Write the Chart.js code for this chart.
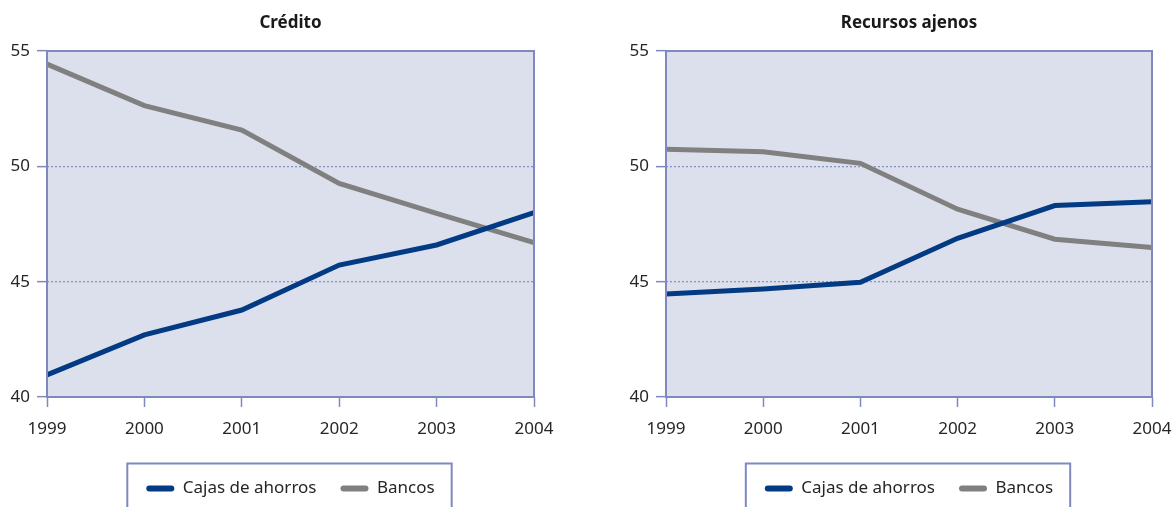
<!DOCTYPE html>
<html><head><meta charset="utf-8">
<script src="https://cdn.jsdelivr.net/npm/chart.js@4/dist/chart.umd.min.js"></script>
<style>
html,body{margin:0;padding:0;background:#fff;width:1173px;height:507px;overflow:hidden}
.wrap{position:absolute;top:0;height:507px}
</style></head><body>
<div class="wrap" style="left:0;width:581px"><canvas id="c1" width="581" height="507"></canvas></div>
<div class="wrap" style="left:600px;width:573px"><canvas id="c2" width="573" height="507"></canvas></div>
<script>
const years = ['1999','2000','2001','2002','2003','2004'];
const seriesNames = ['Cajas de ahorros','Bancos'];
const creditoCajas = [40.96, 42.69, 43.77, 45.72, 46.59, 47.99];
const creditoBancos = [54.43, 52.63, 51.57, 49.26, 47.96, 46.69];
const recursosCajas = [44.47, 44.68, 44.97, 46.88, 48.30, 48.46];
const recursosBancos = [50.74, 50.63, 50.13, 48.14, 46.84, 46.48];
const yMin = 40, yMax = 55, yStep = 5;
const titles = ['Crédito','Recursos ajenos'];

const AXIS = '#7f89bf';
const GRID = '#8a92c4';
const BG = '#dce0ec';
const CAJAS = '#023b83';
const BANCOS = '#808080';

Chart.defaults.font.family = "'Noto Sans', sans-serif";
Chart.defaults.color = '#262626';

const framePlugin = {
  id: 'frame',
  beforeDraw(chart) {
    const a = chart.chartArea, ctx = chart.ctx;
    ctx.save();
    ctx.fillStyle = BG;
    ctx.fillRect(a.left, a.top, a.right - a.left, a.bottom - a.top);
    ctx.restore();
  },
  afterDraw(chart) {
    const a = chart.chartArea, ctx = chart.ctx;
    ctx.save();
    ctx.strokeStyle = AXIS;
    ctx.lineWidth = 2;
    ctx.strokeRect(a.left, a.top, a.right - a.left, a.bottom - a.top);
    const lg = chart.legend;
    if (lg && lg.legendHitBoxes && lg.legendHitBoxes.length) {
      const hb = lg.legendHitBoxes;
      let l = Infinity, r = -Infinity, cy = 0;
      hb.forEach(h => { l = Math.min(l, h.left); r = Math.max(r, h.left + h.width); cy = h.top + h.height / 2; });
      ctx.strokeRect(l - 19, cy - 25, (r + 17) - (l - 19), 80);
    }
    ctx.restore();
  }
};

function makeChart(id, title, cajas, bancos, yWidth, padRight) {
  return new Chart(document.getElementById(id), {
    type: 'line',
    data: {
      labels: years,
      datasets: [
        { label: seriesNames[0], data: cajas, borderColor: CAJAS, backgroundColor: CAJAS, borderWidth: 5, pointRadius: 0, tension: 0, fill: false },
        { label: seriesNames[1], data: bancos, borderColor: BANCOS, backgroundColor: BANCOS, borderWidth: 5, pointRadius: 0, tension: 0, fill: false }
      ]
    },
    options: {
      responsive: false,
      devicePixelRatio: 1,
      animation: false,
      layout: { padding: { left: 0, right: padRight, top: 0, bottom: 0 } },
      plugins: {
        title: { display: true, text: title, fullSize: false, font: { size: 17, weight: 'bold' }, color: '#1a1a1a', padding: { top: 13, bottom: 17.6 } },
        legend: {
          display: true, position: 'bottom', fullSize: false,
          labels: {
            boxWidth: 28, boxHeight: 6, padding: 24, font: { size: 17 }, color: '#262626',
            useBorderRadius: true, borderRadius: 3,
            generateLabels: (chart) => Chart.defaults.plugins.legend.labels.generateLabels(chart).map(l => Object.assign(l, { lineWidth: 0 }))
          }
        },
        tooltip: { enabled: false }
      },
      scales: {
        x: {
          offset: false,
          grid: { drawOnChartArea: false, drawTicks: true, tickLength: 10, tickColor: AXIS, tickWidth: 1.5 },
          border: { display: false },
          ticks: { font: { size: 17 }, color: '#262626', padding: 12, maxRotation: 0 },
          afterFit(s) { s.height = 59; s.paddingLeft = 0; s.paddingRight = 0; }
        },
        y: {
          min: yMin, max: yMax,
          grid: {
            color: (c) => (c.tick && c.tick.value > yMin && c.tick.value < yMax) ? GRID : 'rgba(0,0,0,0)',
            lineWidth: 1.3, drawTicks: true, tickLength: 10, tickColor: AXIS, tickWidth: 1.5, tickBorderDash: []
          },
          border: { display: false, dash: [2, 2] },
          ticks: { stepSize: yStep, font: { size: 17 }, color: '#262626', padding: 7 },
          afterFit(s) { s.width = yWidth; s.paddingTop = 0; s.paddingBottom = 0; }
        }
      }
    },
    plugins: [framePlugin]
  });
}

makeChart('c1', titles[0], creditoCajas, creditoBancos, 47, 47);
makeChart('c2', titles[1], recursosCajas, recursosBancos, 66, 21);
</script>
</body></html>
